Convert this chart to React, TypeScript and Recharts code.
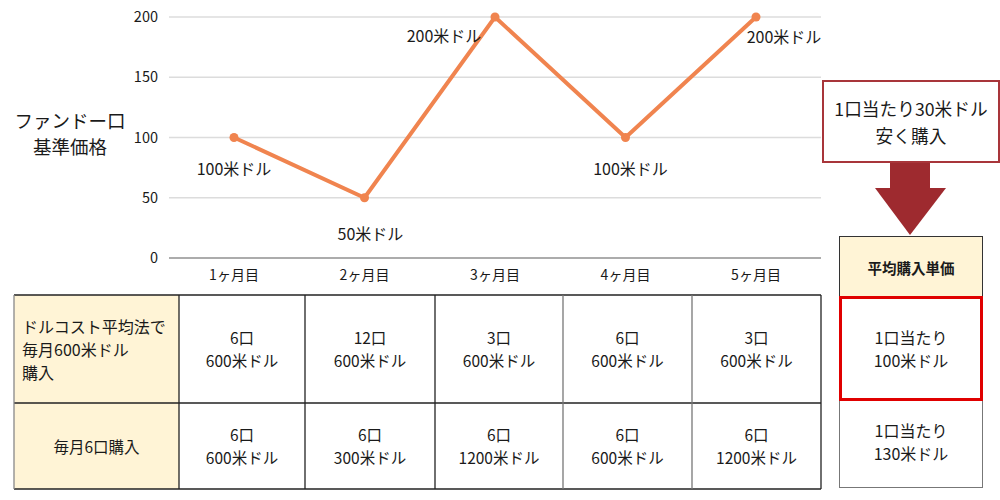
import React from 'react';
import { LineChart, Line, XAxis, YAxis, CartesianGrid, LabelList, Label } from 'recharts';

const months = ['1ヶ月目', '2ヶ月目', '3ヶ月目', '4ヶ月目', '5ヶ月目'];
const prices = [100, 50, 200, 100, 200];
const priceLabels = ['100米ドル', '50米ドル', '200米ドル', '100米ドル', '200米ドル'];
const yTicks = [0, 50, 100, 150, 200];
const yAxisTitle = ['ファンドー口', '基準価格'];

const rowHeaderDca = ['ドルコスト平均法で', '毎月600米ドル', '購入'];
const rowHeaderFixed = '毎月6口購入';
const dcaUnits = ['6口', '12口', '3口', '6口', '3口'];
const dcaAmounts = ['600米ドル', '600米ドル', '600米ドル', '600米ドル', '600米ドル'];
const fixedUnits = ['6口', '6口', '6口', '6口', '6口'];
const fixedAmounts = ['600米ドル', '300米ドル', '1200米ドル', '600米ドル', '1200米ドル'];

const calloutText = ['1口当たり30米ドル', '安く購入'];
const avgHeader = '平均購入単価';
const avgDca = ['1口当たり', '100米ドル'];
const avgFixed = ['1口当たり', '130米ドル'];

const data = months.map((m, i) => ({ month: m, price: prices[i], label: priceLabels[i] }));

// layout constants
const FONT = '"Noto Sans CJK JP", "Noto Sans", sans-serif';
const LINE_COLOR = '#F0844F';
const TEXT = '#1a1a1a';
const BEIGE = '#FFF4D6';
const labelOffsets = [[0, 30], [6, 35], [-51, 18], [5, 30], [28, 19]];
const colX = [14, 179, 305, 435, 563, 692, 821];
const rowY = [295, 403, 489];

const PriceLabel = (p: any) => {
  const off = labelOffsets[p.index] || [0, 0];
  return (
    <text x={p.x + off[0]} y={p.y + off[1]} textAnchor="middle" dominantBaseline="central"
      fontSize={16} fill={TEXT} fontFamily={FONT}>
      {p.value}
    </text>
  );
};

const YTitle = () => (
  <text x={70} y={121} textAnchor="middle" fontSize={18.5} fill={TEXT} fontFamily={FONT}>
    <tspan x={70} dy={7}>{yAxisTitle[0]}</tspan>
    <tspan x={70} dy={26}>{yAxisTitle[1]}</tspan>
  </text>
);

const cellBase: React.CSSProperties = {
  position: 'absolute',
  boxSizing: 'border-box',
  display: 'flex',
  flexDirection: 'column',
  justifyContent: 'center',
  alignItems: 'center',
  textAlign: 'center',
  fontFamily: FONT,
  color: TEXT,
  fontSize: 15.5,
  lineHeight: '23px',
  whiteSpace: 'nowrap',
};

export default function App() {
  const cells: React.ReactNode[] = [];
  cells.push(
    <div key="h1" style={{ ...cellBase, left: colX[0], top: rowY[0], width: colX[1] - colX[0], height: rowY[1] - rowY[0], background: BEIGE, alignItems: 'flex-start', textAlign: 'left', paddingLeft: 8, fontSize: 16 }}>
      {rowHeaderDca.map((t, i) => <div key={i}>{t}</div>)}
    </div>
  );
  cells.push(
    <div key="h2" style={{ ...cellBase, left: colX[0], top: rowY[1], width: colX[1] - colX[0], height: rowY[2] - rowY[1], background: BEIGE, fontSize: 15.5 }}>
      <div>{rowHeaderFixed}</div>
    </div>
  );
  months.forEach((_, i) => {
    cells.push(
      <div key={'a' + i} style={{ ...cellBase, left: colX[i + 1], top: rowY[0], width: colX[i + 2] - colX[i + 1], height: rowY[1] - rowY[0] }}>
        <div>{dcaUnits[i]}</div>
        <div>{dcaAmounts[i]}</div>
      </div>
    );
    cells.push(
      <div key={'b' + i} style={{ ...cellBase, left: colX[i + 1], top: rowY[1], width: colX[i + 2] - colX[i + 1], height: rowY[2] - rowY[1] }}>
        <div>{fixedUnits[i]}</div>
        <div>{fixedAmounts[i]}</div>
      </div>
    );
  });

  const lines: React.ReactNode[] = [];
  rowY.forEach((y, i) => lines.push(<line key={'r' + i} x1={colX[0]} x2={colX[6]} y1={y} y2={y} stroke="#222" strokeWidth={1.3} />));
  colX.forEach((x, i) => lines.push(<line key={'c' + i} x1={x} x2={x} y1={rowY[0]} y2={rowY[2]} stroke={i === 0 ? '#888' : i === 6 ? '#222' : i >= 4 ? '#777' : '#222'} strokeWidth={1.3} />));

  return (
    <div style={{ position: 'absolute', left: 0, top: 0, width: 1000, height: 500, background: '#fff', fontFamily: FONT }}>
      <div style={{ position: 'absolute', left: 0, top: 0 }}>
        <LineChart width={1000} height={290} data={data} margin={{ top: 17, right: 179, left: 109, bottom: 2 }}>
          <CartesianGrid vertical={false} stroke="#dcdcdc" strokeWidth={1.3} />
          <XAxis dataKey="month" padding={{ left: 65, right: 65 }} tickLine={false} axisLine={{ stroke: '#999', strokeWidth: 1.3 }}
            tick={{ fontSize: 14, fill: TEXT, fontFamily: FONT }} tickMargin={6} height={30} />
          <YAxis domain={[0, 200]} ticks={yTicks} width={60} tickLine={false} axisLine={false} tickMargin={5}
            tick={{ fontSize: 14.5, fill: TEXT, fontFamily: FONT }}>
            <Label content={<YTitle />} />
          </YAxis>
          <Line type="linear" dataKey="price" stroke={LINE_COLOR} strokeWidth={4} isAnimationActive={false}
            dot={{ r: 4.5, fill: LINE_COLOR, stroke: LINE_COLOR, strokeWidth: 0 }}>
            <LabelList dataKey="label" content={<PriceLabel />} />
          </Line>
        </LineChart>
      </div>

      {cells}
      <svg width={1000} height={500} style={{ position: 'absolute', left: 0, top: 0, pointerEvents: 'none' }}>
        {lines}
        <rect x={890} y={163} width={40} height={26} fill="#9E2A2F" />
        <polygon points="875,188 946,188 910,235" fill="#9E2A2F" />
      </svg>

      <div style={{ ...cellBase, left: 822, top: 80, width: 178, height: 83, border: '2px solid #A8353A', fontSize: 17.7, lineHeight: '27px', background: '#fff' }}>
        <div>{calloutText[0]}</div>
        <div>{calloutText[1]}</div>
      </div>

      <div style={{ ...cellBase, left: 839, top: 236, width: 144, height: 62, border: '1.5px solid #333', background: BEIGE, fontSize: 14.5, fontWeight: 700 }}>
        <div>{avgHeader}</div>
      </div>
      <div style={{ ...cellBase, left: 839, top: 397, width: 144, height: 91, border: '1.5px solid #777', borderTop: 'none', fontSize: 16 }}>
        <div>{avgFixed[0]}</div>
        <div>{avgFixed[1]}</div>
      </div>
      <div style={{ ...cellBase, left: 839, top: 296, width: 144, height: 105, border: '3px solid #E00000', background: '#fff', fontSize: 16 }}>
        <div>{avgDca[0]}</div>
        <div>{avgDca[1]}</div>
      </div>
    </div>
  );
}
